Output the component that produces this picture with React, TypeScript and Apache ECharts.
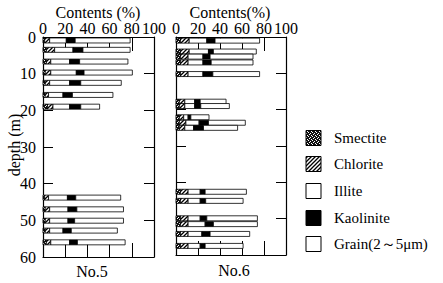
import React, { useEffect, useRef } from "react";
import * as echarts from "echarts";

// No.5 well: depth (m) and stacked contents (%)
const depth5 = [0.95, 3.5, 6.7, 9.7, 12.5, 15.8, 19, 43.8, 47, 50.1, 52.8, 56];
const smectite5 = [1.5, 3, 3, 2, 2, 2, 4, 1.5, 2, 2, 2, 3];
const chlorite5 = [4.5, 7.5, 4, 5, 4, 3, 5, 3.5, 4, 4, 4, 4];
const illite5 = [15, 16.5, 17, 23, 18, 13, 15, 17, 16.5, 16.5, 12, 17];
const kaolinite5 = [8, 9, 9, 7, 10, 8.5, 10, 7.5, 8, 6, 7.5, 7];
const grain5 = [49.5, 42.5, 43.5, 43.5, 36.5, 36.5, 17, 40.5, 42, 44, 41.5, 43];

// No.6 well
const depth6 = [1, 4, 5.4, 7, 10.2, 17.8, 19, 22.1, 23.6, 25, 42.6, 45.1, 49.9, 51.5, 54.2, 57.5];
const smectite6 = [4, 4, 4, 4, 4, 3, 3, 3, 3, 3, 4, 4, 4, 4, 4, 4];
const chlorite6 = [8, 8, 7, 7, 7, 5, 5, 4, 6, 5, 7, 7, 7, 7, 7, 7];
const illite6 = [16, 17.5, 13.5, 13.5, 13.5, 9, 9, 4, 12, 8, 11, 11, 11, 15.5, 12.5, 11];
const kaolinite6 = [7.5, 4.5, 6.5, 7.5, 9, 5, 5.5, 2.5, 8.5, 9, 4.5, 5, 6, 7.5, 7.5, 4.5];
const grain6 = [40.5, 39, 39, 38, 42.5, 23.5, 26, 16.5, 33.5, 31, 37.5, 34, 46, 40, 36, 34.5];

const xTicks = [0, 20, 40, 60, 80, 100];
const yTicks = [0, 10, 20, 30, 40, 50, 60];
const legendNames = ["Smectite", "Chlorite", "Illite", "Kaolinite", "Grain(2～5μm)"];

const FONT = "Liberation Serif";

function makePattern(w: number, h: number, draw: (ctx: CanvasRenderingContext2D) => void) {
  const c = document.createElement("canvas");
  c.width = w;
  c.height = h;
  const ctx = c.getContext("2d")!;
  draw(ctx);
  return { image: c.toDataURL(), repeat: "repeat", imageWidth: w, imageHeight: h } as any;
}

function rows(d: number[], a: number[], b: number[], c: number[], e: number[], f: number[]) {
  return d.map((v, i) => [v, a[i], b[i], c[i], e[i], f[i]]);
}

export default function App() {
  const ref = useRef<HTMLDivElement>(null);
  useEffect(() => {
    if (!ref.current) return;
    const chart = echarts.init(ref.current, null, { renderer: "svg" });

    const smectiteFill = makePattern(4, 4, (ctx) => {
      ctx.fillStyle = "#111";
      ctx.fillRect(0, 0, 4, 4);
      ctx.fillStyle = "#fff";
      ctx.fillRect(0, 0, 1, 1);
      ctx.fillRect(2, 1, 1, 1);
      ctx.fillRect(1, 2, 1, 1);
      ctx.fillRect(3, 3, 1, 1);
    });
    const chloriteFill = makePattern(4, 4, (ctx) => {
      ctx.fillStyle = "#fff";
      ctx.fillRect(0, 0, 4, 4);
      ctx.strokeStyle = "#000";
      ctx.lineWidth = 1.3;
      ctx.beginPath();
      ctx.moveTo(-1, 5);
      ctx.lineTo(5, -1);
      ctx.moveTo(-1, 1);
      ctx.lineTo(1, -1);
      ctx.moveTo(3, 5);
      ctx.lineTo(5, 3);
      ctx.stroke();
    });
    const fills: any[] = [smectiteFill, chloriteFill, "#fff", "#000", "#fff"];

    const barH = 5;
    const renderItem = (params: any, api: any) => {
      const d = api.value(0);
      let acc = 0;
      const children: any[] = [];
      for (let k = 0; k < 5; k++) {
        const v = api.value(k + 1);
        const p0 = api.coord([acc, d]);
        const p1 = api.coord([acc + v, d]);
        children.push({
          type: "rect",
          shape: { x: p0[0], y: p0[1] - barH / 2, width: p1[0] - p0[0], height: barH },
          style: { fill: fills[k], stroke: "#000", lineWidth: 0.8 },
        });
        acc += v;
      }
      return { type: "group", children };
    };

    const grids = [
      { left: 43, top: 37, width: 111, height: 220 },
      { left: 176, top: 37, width: 110, height: 218 },
    ];

    const lineCfg = { show: true, onZero: false, lineStyle: { color: "#000", width: 1.2 } };

    const xAxisTop = (gi: number) => ({
      type: "value",
      gridIndex: gi,
      position: "top",
      min: xTicks[0],
      max: xTicks[xTicks.length - 1],
      interval: 20,
      axisLine: lineCfg,
      axisTick: { show: true, inside: true, length: 14, lineStyle: { color: "#000" } },
      axisLabel: { show: true, color: "#000", fontFamily: FONT, fontSize: 16, margin: 1 },
      splitLine: { show: false },
    });
    const xAxisBottom = (gi: number) => ({
      type: "value",
      gridIndex: gi,
      position: "bottom",
      min: 0,
      max: 100,
      interval: 20,
      axisLine: lineCfg,
      axisTick: { show: true, inside: true, length: 14, lineStyle: { color: "#000" } },
      axisLabel: { show: false },
      splitLine: { show: false },
    });
    const yAxis = (gi: number, pos: string, labels: boolean) => ({
      type: "value",
      gridIndex: gi,
      position: pos,
      inverse: true,
      min: yTicks[0],
      max: yTicks[yTicks.length - 1],
      interval: 10,
      axisLine: lineCfg,
      axisTick: { show: true, inside: true, length: 10, lineStyle: { color: "#000" } },
      axisLabel: {
        show: labels,
        color: "#000",
        fontFamily: FONT,
        fontSize: 16,
        margin: 7,
        padding: [8, 0, 0, 0],
      },
      splitLine: { show: false },
    });

    const legendY = [138, 164, 191, 218, 244];
    const legendGraphics: any[] = [];
    legendNames.forEach((name, i) => {
      legendGraphics.push({
        type: "rect",
        shape: { x: 306, y: legendY[i] - 7.5, width: 15, height: 15 },
        style: { fill: fills[i], stroke: "#000", lineWidth: 1 },
      });
      legendGraphics.push({
        type: "text",
        x: 334,
        y: legendY[i],
        style: {
          text: name,
          fill: "#000",
          fontFamily: FONT,
          fontSize: 15,
          verticalAlign: "middle",
        },
      });
    });

    const textG = (text: string, x: number, y: number, rotation = 0) => ({
      type: "text",
      x,
      y,
      rotation,
      style: {
        text,
        fill: "#000",
        fontFamily: FONT,
        fontSize: 16,
        align: "center",
        verticalAlign: "middle",
      },
    });

    chart.setOption({
      animation: false,
      backgroundColor: "#fff",
      grid: grids,
      xAxis: [xAxisTop(0), xAxisBottom(0), xAxisTop(1), xAxisBottom(1)],
      yAxis: [yAxis(0, "left", true), yAxis(0, "right", false), yAxis(1, "left", false), yAxis(1, "right", false)],
      series: [
        {
          type: "custom",
          name: "No.5",
          xAxisIndex: 0,
          yAxisIndex: 0,
          renderItem,
          encode: { x: 1, y: 0 },
          data: rows(depth5, smectite5, chlorite5, illite5, kaolinite5, grain5),
        },
        {
          type: "custom",
          name: "No.6",
          xAxisIndex: 2,
          yAxisIndex: 2,
          renderItem,
          encode: { x: 1, y: 0 },
          data: rows(depth6, smectite6, chlorite6, illite6, kaolinite6, grain6),
        },
      ],
      graphic: [
        textG("Contents (%)", 98, 12),
        textG("Contents(%)", 230, 12),
        textG("depth (m)", 14, 145, Math.PI / 2),
        textG("No.5", 92, 271),
        textG("No.6", 234, 270),
        ...legendGraphics,
      ],
    });
    return () => chart.dispose();
  }, []);
  return (
    <div
      ref={ref}
      style={{ position: "fixed", left: 0, top: 0, width: 443, height: 283 }}
    />
  );
}
